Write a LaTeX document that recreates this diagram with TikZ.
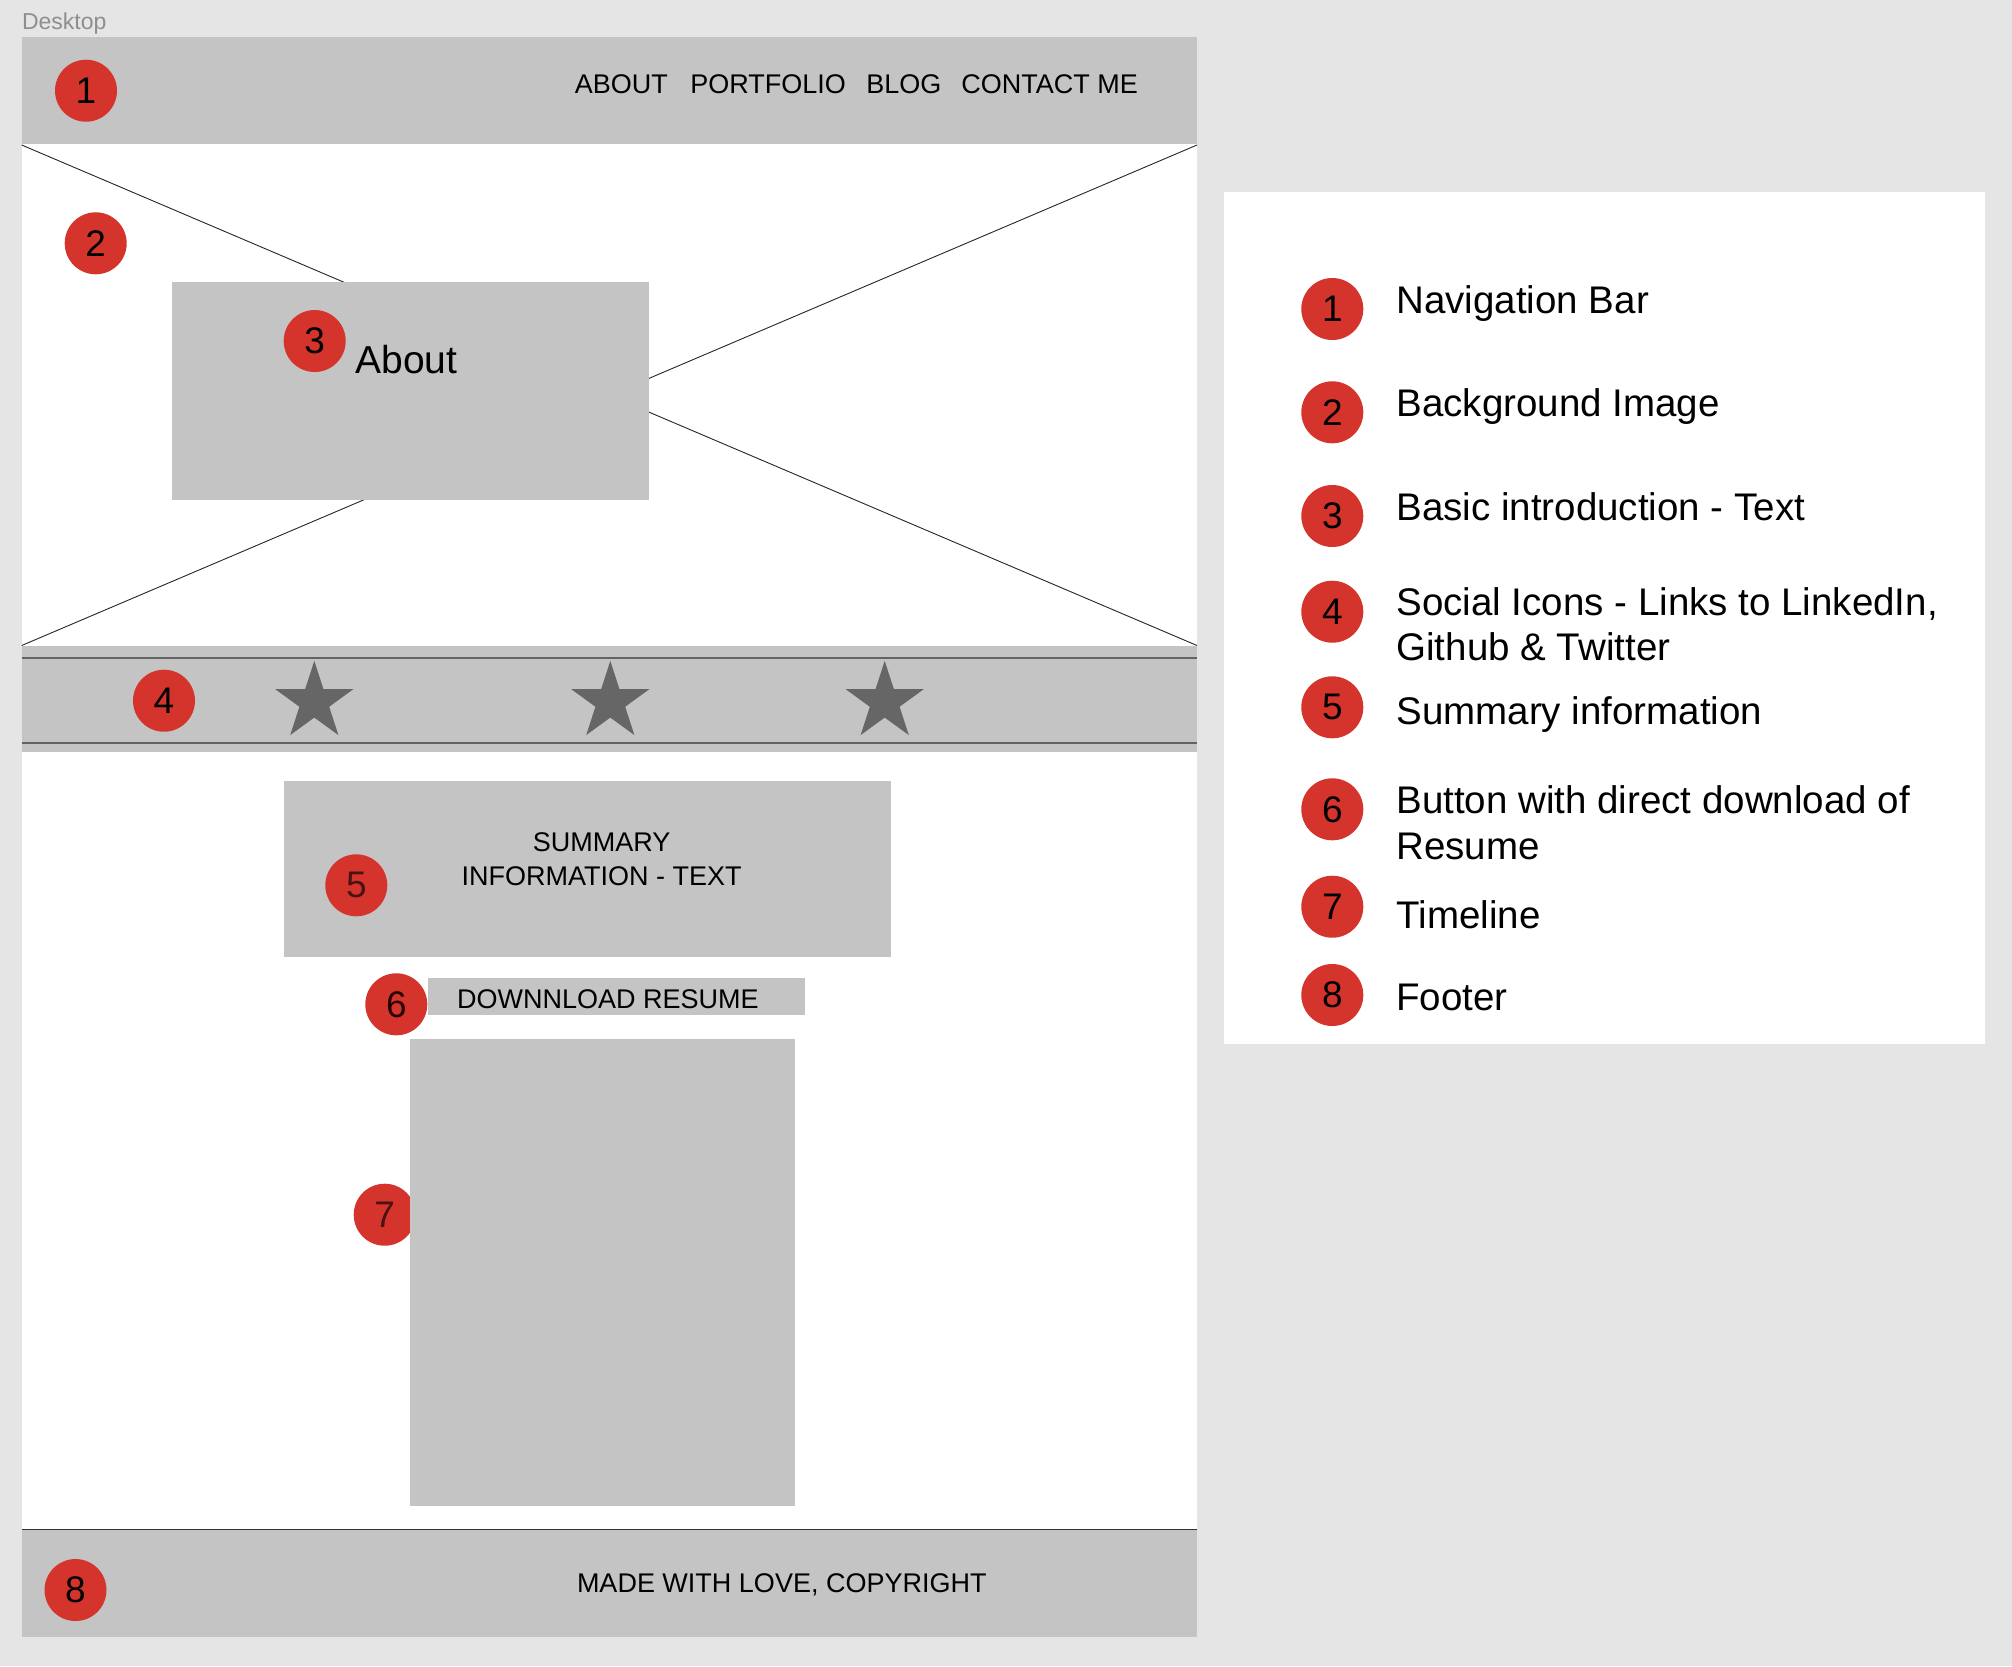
\documentclass[tikz,border=0pt]{standalone}
\usepackage{fontspec}
\setmainfont{Liberation Sans}
\usetikzlibrary{shapes.geometric}
\definecolor{bgc}{HTML}{E5E5E5}
\definecolor{boxc}{HTML}{C4C4C4}
\definecolor{badgec}{HTML}{D4342C}
\definecolor{starc}{HTML}{666666}
\definecolor{labgray}{HTML}{8E8E8E}
\definecolor{bandline}{HTML}{636363}
\definecolor{darkred}{HTML}{4A1212}
\begin{document}
\begin{tikzpicture}[x=0.5pt,y=-0.5pt,
  badge/.style={circle,fill=badgec,minimum size=31pt,inner sep=0pt,font=\fontsize{18.5}{18.5}\selectfont},
  capstext/.style={inner sep=0pt,anchor=base west,font=\fontsize{13.5}{13.5}\selectfont},
  legtext/.style={inner sep=0pt,anchor=base west,font=\fontsize{19.25}{19.25}\selectfont},
  socialstar/.style={star,star points=5,star point ratio=2.618,minimum size=41pt,inner sep=0pt,fill=starc,draw=none},
  greybox/.style={fill=boxc},
  xline/.style={draw=black!85,line width=0.45pt},
]
\useasboundingbox (0,0) rectangle (2012,1666);
\fill[bgc] (0,0) rectangle (2012,1666);
\node[inner sep=0pt,anchor=base west,text=labgray,font=\fontsize{11.5}{11.5}\selectfont] (desk) at (21.7,29.3) {Desktop};
% frame
\fill[white] (21.7,37) rectangle (1197,1637);
% nav bar
\fill[greybox] (21.7,37) rectangle (1197,144);
\node[capstext] (n1) at (574.5,93.3) {ABOUT};
\node[capstext] (n2) at (690,93.3) {PORTFOLIO};
\node[capstext] (n3) at (866,93.3) {BLOG};
\node[capstext] (n4) at (961,93.3) {CONTACT ME};
\node[badge] (b1) at (86,90.7) {1};
% hero placeholder
\coordinate (heroTL) at (21.7,145);
\coordinate (heroTR) at (1197,145);
\coordinate (heroBL) at (21.7,645.5);
\coordinate (heroBR) at (1197,645.5);
\draw[xline] (heroTL) -- (heroBR);
\draw[xline] (heroTR) -- (heroBL);
\fill[greybox] (171.7,282) rectangle (648.7,499.7);
\node[inner sep=0pt,anchor=base west,font=\fontsize{19.5}{19.5}\selectfont] (about) at (355,373.3) {About};
\node[badge] (b2) at (95.7,243.3) {2};
\node[badge] (b3) at (314.7,341) {3};
% social band
\fill[greybox] (21.7,645.7) rectangle (1197,752);
\draw[bandline,line width=0.8pt] (21.7,657.7) -- (1197,657.7);
\draw[bandline,line width=0.8pt] (21.7,742.7) -- (1197,742.7);
\node[socialstar] (s1) at (314.3,701.9) {};
\node[socialstar] (s2) at (610.3,701.9) {};
\node[socialstar] (s3) at (884.7,701.9) {};
\node[badge] (b4) at (164,700.7) {4};
% summary
\fill[greybox] (283.7,781) rectangle (891,957);
\node[capstext,anchor=base] (sum1) at (601.7,851) {SUMMARY};
\node[capstext,anchor=base] (sum2) at (601.7,885.3) {INFORMATION - TEXT};
\node[badge,text=darkred] (b5) at (356.3,885.3) {5};
% download button
\fill[greybox] (427.7,978.3) rectangle (805,1015.3);
\node[capstext] (dl) at (456.7,1008.7) {DOWNNLOAD RESUME};
\node[badge,text=black!85!red] (b6) at (396.3,1004.3) {6};
% timeline
\node[badge,text=darkred] (b7) at (384.7,1214.7) {7};
\fill[greybox] (410.3,1039) rectangle (795,1506);
% footer
\fill[greybox] (21.7,1529.3) rectangle (1197,1637);
\draw[black!80,line width=0.8pt] (21.7,1529.3) -- (1197,1529.3);
\node[capstext] (foot) at (576.6,1592.3) {MADE WITH LOVE, COPYRIGHT};
\node[badge] (b8) at (75.5,1590) {8};
% legend panel
\fill[white] (1224,191.6) rectangle (1985,1044);
\node[badge] (L1) at (1332.3,309) {1};
\node[legtext] (T1) at (1396,313.3) {Navigation Bar};
\node[badge] (L2) at (1332.3,412.3) {2};
\node[legtext] (T2) at (1396,416.7) {Background Image};
\node[badge] (L3) at (1332.3,516) {3};
\node[legtext] (T3) at (1396,520) {Basic introduction - Text};
\node[badge] (L4) at (1332.3,611.7) {4};
\node[legtext] (T4a) at (1396,615) {Social Icons - Links to LinkedIn,};
\node[legtext] (T4b) at (1396,660) {Github \& Twitter};
\node[badge] (L5) at (1332.3,707.3) {5};
\node[legtext] (T5) at (1396,724) {Summary information};
\node[badge] (L6) at (1332.3,809.3) {6};
\node[legtext] (T6a) at (1396,813.3) {Button with direct download of};
\node[legtext] (T6b) at (1396,859) {Resume};
\node[badge] (L7) at (1332.3,906.7) {7};
\node[legtext] (T7) at (1396,928.3) {Timeline};
\node[badge] (L8) at (1332.3,995) {8};
\node[legtext] (T8) at (1396,1010.7) {Footer};
\end{tikzpicture}
\end{document}
